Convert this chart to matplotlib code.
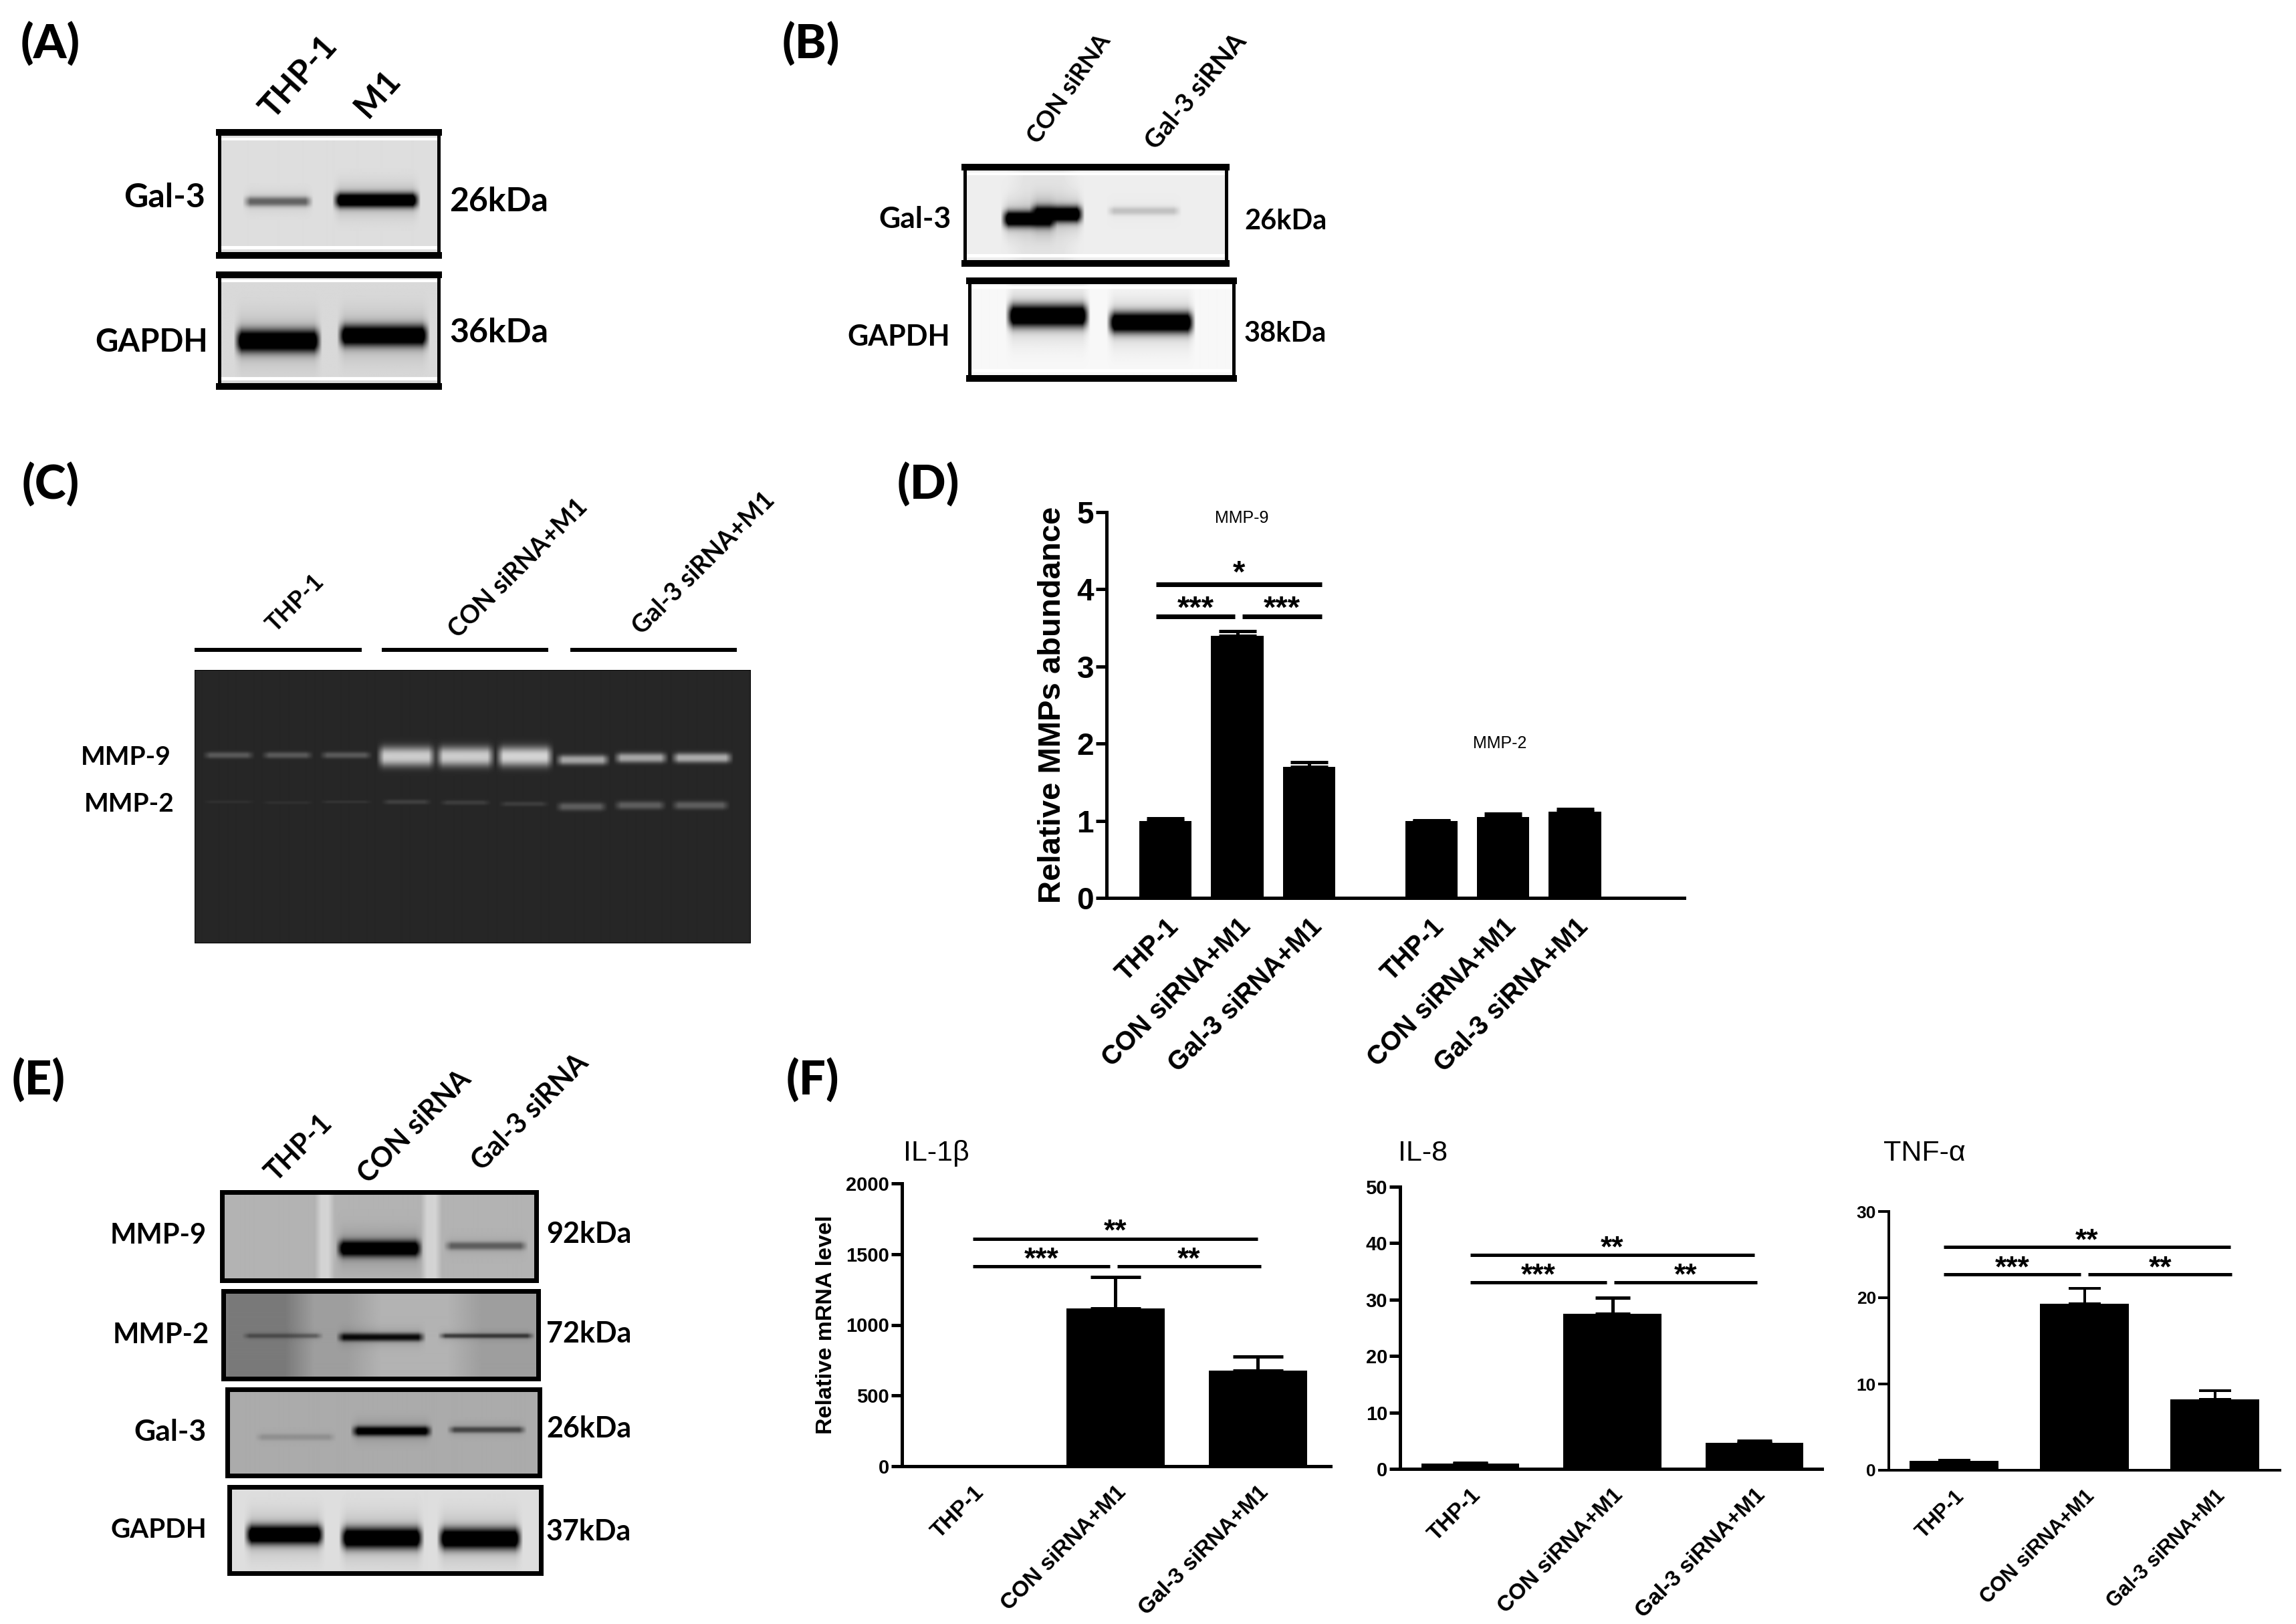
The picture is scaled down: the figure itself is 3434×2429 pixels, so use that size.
import numpy as np
import matplotlib
matplotlib.use('Agg')
import matplotlib.pyplot as plt

W, H = 3434, 2429
DPI = 100
ARIAL = 'Liberation Sans'
CALIBRI = 'Lato'

GROUPS = ['THP-1', 'CON siRNA+M1', 'Gal-3 siRNA+M1']

# panel D
mmp9_values = [1.0, 3.4, 1.7]
mmp9_errors = [0.03, 0.06, 0.06]
mmp2_values = [1.0, 1.05, 1.12]
mmp2_errors = [0.005, 0.04, 0.03]

# panel F
il1b_values = [1, 1115, 675]
il1b_errors = [0, 225, 100]
il8_values = [1, 27.5, 4.6]
il8_errors = [0.05, 2.8, 0.4]
tnf_values = [1.1, 19.3, 8.2]
tnf_errors = [0.05, 1.8, 1.0]

# blots: box (x0, x1, y0, y1), background grey, bands (x0, x1, y, half height, strength),
# lane strips (x0, x1, grey shift)
a_gal3 = ((328, 656, 198, 382), 0.87, [(368, 462, 301, 6, 0.42), (502, 622, 299, 9, 1.0)], [])
a_gapdh = ((328, 656, 411, 578), 0.85, [(355, 475, 510, 14, 1.0), (509, 636, 502, 13, 1.0)], [])
b_gal3 = ((1443, 1834, 250, 394), 0.93, [(1502, 1575, 327, 10, 1.0), (1545, 1616, 320, 10, 1.0), (1660, 1761, 315, 5, 0.14)],
          [(1505, 1615, -0.04)])
b_gapdh = ((1450, 1845, 420, 566), 0.97, [(1509, 1624, 472, 14, 1.0), (1660, 1781, 482, 13, 1.0)], [])
c_gel = ((291, 1122, 1002, 1410), 0.15, [
    (308, 375, 1129, 4, -0.2), (396, 463, 1129, 4, -0.2), (483, 551, 1129, 4, -0.2),
    (568, 646, 1131, 12, -0.65), (656, 734, 1131, 12, -0.65), (746, 822, 1131, 12, -0.68),
    (835, 906, 1136, 6, -0.5), (922, 993, 1133, 6, -0.5), (1008, 1090, 1133, 6, -0.52),
    (308, 375, 1199, 2, -0.04), (396, 463, 1200, 2, -0.04), (483, 551, 1199, 2, -0.05),
    (575, 640, 1199, 3, -0.1), (662, 728, 1200, 3, -0.09), (750, 815, 1202, 3, -0.09),
    (835, 902, 1206, 5, -0.22), (922, 990, 1204, 5, -0.22), (1008, 1085, 1204, 5, -0.22)], [])
e_mmp9 = ((332, 802, 1783, 1915), 0.7, [(507, 626, 1867, 10, 1.0), (668, 783, 1863, 5, 0.36)],
          [(470, 500, 0.13), (628, 660, 0.13)])
e_mmp2 = ((334, 805, 1931, 2062), 0.62, [(367, 478, 1998, 3, 0.3), (508, 631, 2000, 5, 0.72), (660, 794, 1998, 3, 0.5)],
          [(300, 470, -0.14), (520, 720, 0.08)])
e_gal3 = ((340, 807, 2078, 2207), 0.67, [(386, 497, 2149, 4, 0.12), (529, 641, 2140, 6, 0.85), (673, 781, 2138, 4, 0.45)], [])
e_gapdh = ((343, 809, 2224, 2353), 0.87, [(370, 480, 2295, 12, 1.0), (512, 628, 2300, 13, 1.0), (658, 775, 2301, 13, 1.0)], [])


def pts(px):
    return px * 72 / DPI


def box_axes(fig, x0, x1, y0, y1):
    return fig.add_axes([x0 / W, 1 - y1 / H, (x1 - x0) / W, (y1 - y0) / H])


def draw_blot(fig, blot, border=5, white_edge=False):
    (x0, x1, y0, y1), bg, bands, strips = blot
    xx, yy = np.meshgrid(np.arange(x0, x1), np.arange(y0, y1))
    img = np.full(xx.shape, float(bg))
    for sx0, sx1, shift in strips:
        ramp = max(10, (sx1 - sx0) / 4)
        img = img + shift * np.clip((xx - sx0) / ramp, 0, 1) * np.clip((sx1 - xx) / ramp, 0, 1)
    for bx0, bx1, by, half, strength in bands:
        across = np.clip((xx - bx0 + 6) / 12, 0, 1) * np.clip((bx1 - xx + 6) / 12, 0, 1)
        down = np.exp(-np.abs((yy - by) / (half * 1.2)) ** 2.4)
        halo = np.exp(-((yy - by) / (half * 2.6)) ** 2) * 0.18
        if strength > 0:
            img = img * (1 - np.clip(across * (down * strength * 1.15 + halo * strength), 0, 1))
        else:
            img = img - strength * across * down
    if white_edge:
        img[8:12, :] = 1.0
        img[-14:-9, :] = 1.0
    ax = box_axes(fig, x0, x1, y0, y1)
    ax.imshow(img, cmap='gray', vmin=0, vmax=1, aspect='auto', interpolation='bilinear')
    ax.set_xticks([])
    ax.set_yticks([])
    for side in ax.spines.values():
        side.set_linewidth(pts(border))
        side.set_color('black')
    if white_edge:
        ax.spines['top'].set_linewidth(pts(border * 2))
        ax.spines['bottom'].set_linewidth(pts(border * 2))
    return ax


def draw_bars(fig, box, xlim, ylim, positions, values, errors, width, labels, yticks,
              tick_size, label_size, axis_lw, cap):
    ax = box_axes(fig, *box)
    ax.patch.set_alpha(0)
    ax.bar(positions, values, width=width, color='black', zorder=2)
    ax.errorbar(positions, values, yerr=[np.zeros(len(errors)), errors], fmt='none', ecolor='black',
                elinewidth=pts(axis_lw), capsize=cap, capthick=pts(axis_lw), zorder=2, clip_on=False)
    ax.set_xlim(*xlim)
    ax.set_ylim(*ylim)
    ax.spines['top'].set_visible(False)
    ax.spines['right'].set_visible(False)
    ax.spines['left'].set_linewidth(pts(axis_lw))
    ax.spines['bottom'].set_linewidth(pts(axis_lw))
    ax.set_yticks(yticks)
    ax.tick_params(axis='y', length=pts(16), width=pts(axis_lw), pad=pts(3))
    for tick in ax.get_yticklabels():
        tick.set_fontsize(tick_size)
        tick.set_fontfamily(ARIAL)
        tick.set_fontweight('bold')
    ax.set_xticks(positions)
    ax.set_xticklabels(labels, rotation=45, ha='right', va='top', rotation_mode='anchor',
                       fontsize=label_size, fontfamily=ARIAL, fontweight='bold')
    ax.tick_params(axis='x', length=0, pad=pts(24))
    return ax


def sig_bar(ax, x0, x1, y, stars, size, lw, rise=0.0):
    ax.plot([x0, x1], [y, y], color='black', lw=pts(lw), solid_capstyle='butt', clip_on=False)
    ax.text((x0 + x1) / 2, y + rise, stars, ha='center', va='center', fontsize=size, fontfamily=ARIAL, fontweight='bold')


def main():
    fig = plt.figure(figsize=(W / DPI, H / DPI), dpi=DPI, facecolor='white')

    for blot in [a_gal3, a_gapdh, b_gal3, b_gapdh]:
        draw_blot(fig, blot, border=5, white_edge=True)
    draw_blot(fig, c_gel, border=1)
    for blot in [e_mmp9, e_mmp2, e_gal3, e_gapdh]:
        draw_blot(fig, blot, border=7)

    # overlay in picture pixels for the free labels
    page = fig.add_axes([0, 0, 1, 1], zorder=5)
    page.set_xlim(0, W)
    page.set_ylim(H, 0)
    page.axis('off')

    for label, x, y in [('(A)', 31, 66), ('(B)', 1170, 66), ('(C)', 33, 725),
                        ('(D)', 1342, 725), ('(E)', 18, 1616), ('(F)', 1176, 1616)]:
        page.text(x, y, label, ha='left', va='center', fontsize=51, fontfamily=CALIBRI, fontweight='black')

    side_labels = [('Gal-3', 307, 296, 36), ('GAPDH', 311, 512, 34),
                   ('Gal-3', 1423, 328, 32), ('GAPDH', 1421, 504, 31),
                   ('MMP-9', 256, 1132, 28), ('MMP-2', 261, 1202, 28),
                   ('MMP-9', 309, 1848, 30), ('MMP-2', 313, 1997, 30),
                   ('Gal-3', 309, 2142, 32), ('GAPDH', 309, 2289, 29)]
    for label, x, y, size in side_labels:
        page.text(x, y, label, ha='right', va='center', fontsize=size, fontfamily=CALIBRI, fontweight='bold')

    size_labels = [('26kDa', 672, 302, 36), ('36kDa', 672, 497, 36),
                   ('26kDa', 1861, 331, 30), ('38kDa', 1861, 499, 30),
                   ('92kDa', 817, 1846, 31), ('72kDa', 817, 1995, 31),
                   ('26kDa', 817, 2137, 31), ('37kDa', 817, 2291, 31)]
    for label, x, y, size in size_labels:
        page.text(x, y, label, ha='left', va='center', fontsize=size, fontfamily=CALIBRI, fontweight='bold')

    lane_labels = [('THP-1', 447, 116, 36, 48), ('M1', 565, 140, 36, 48),
                   ('CON siRNA', 1599, 133, 26, 55), ('Gal-3 siRNA', 1789, 137, 28, 50),
                   ('THP-1', 442, 902, 26, 45), ('CON siRNA+M1', 775, 850, 27, 45),
                   ('Gal-3 siRNA+M1', 1053, 843, 27, 45),
                   ('THP-1', 447, 1717, 30, 45), ('CON siRNA', 620, 1686, 30, 45),
                   ('Gal-3 siRNA', 793, 1664, 30, 45)]
    for label, x, y, size, angle in lane_labels:
        page.text(x, y, label, ha='center', va='center', rotation=angle, fontsize=size,
                  fontfamily=CALIBRI, fontweight='bold')

    for x0, x1 in [(291, 541), (571, 820), (853, 1102)]:
        page.plot([x0, x1], [972, 972], color='black', lw=pts(6), solid_capstyle='butt')

    # panel D
    positions_d = [0, 1, 2, 3.7, 4.7, 5.7]
    ax_d = draw_bars(fig, (1655, 2519, 766, 1343), (-0.82, 7.22), (0, 5), positions_d,
                     mmp9_values + mmp2_values, mmp9_errors + mmp2_errors, 0.73, GROUPS * 2,
                     [0, 1, 2, 3, 4, 5], 33, 28.5, 5, 20)
    ax_d.set_ylabel('Relative MMPs abundance', fontsize=34, fontfamily=ARIAL, fontweight='bold', labelpad=pts(14))
    sig_bar(ax_d, -0.13, 2.18, 4.06, '*', 34, 7, rise=0.14)
    sig_bar(ax_d, -0.13, 0.97, 3.65, '***', 34, 7, rise=0.09)
    sig_bar(ax_d, 1.07, 2.18, 3.65, '***', 34, 7, rise=0.09)
    page.text(1857, 775, 'MMP-9', ha='center', va='center', fontsize=18, fontfamily=ARIAL)
    page.text(2243, 1112, 'MMP-2', ha='center', va='center', fontsize=18, fontfamily=ARIAL)

    # panel F
    ax_il1b = draw_bars(fig, (1349, 1990, 1770, 2193), (-0.5, 2.51), (0, 2000), [0, 1, 2], il1b_values,
                        il1b_errors, 0.69, GROUPS, [0, 500, 1000, 1500, 2000], 21, 24, 5, 27)
    ax_il1b.set_ylabel('Relative mRNA level', fontsize=24.5, fontfamily=ARIAL, fontweight='bold', labelpad=pts(14))
    sig_bar(ax_il1b, 0, 2.0, 1609, '**', 32, 5, rise=45)
    sig_bar(ax_il1b, 0, 0.96, 1412, '***', 32, 5, rise=45)
    sig_bar(ax_il1b, 1.01, 2.02, 1412, '**', 32, 5, rise=45)

    ax_il8 = draw_bars(fig, (2094, 2725, 1775, 2197), (-0.494, 2.475), (0, 50), [0, 1, 2], il8_values,
                       il8_errors, 0.69, GROUPS, [0, 10, 20, 30, 40, 50], 21, 24, 5, 19)
    sig_bar(ax_il8, 0, 2.0, 37.9, '**', 32, 5, rise=1.1)
    sig_bar(ax_il8, 0, 0.96, 33, '***', 32, 5, rise=1.1)
    sig_bar(ax_il8, 1.01, 2.02, 33, '**', 32, 5, rise=1.1)

    ax_tnf = draw_bars(fig, (2825, 3410, 1812, 2199), (-0.5, 2.5), (0, 30), [0, 1, 2], tnf_values,
                       tnf_errors, 0.68, GROUPS, [0, 10, 20, 30], 19, 22, 4, 17)
    sig_bar(ax_tnf, -0.08, 2.12, 25.9, '**', 32, 5, rise=0.65)
    sig_bar(ax_tnf, -0.08, 0.97, 22.7, '***', 32, 5, rise=0.65)
    sig_bar(ax_tnf, 1.03, 2.13, 22.7, '**', 32, 5, rise=0.65)

    for label, x in [('IL-1β', 1351), ('IL-8', 2091), ('TNF-α', 2817)]:
        page.text(x, 1725, label, ha='left', va='center', fontsize=31, fontfamily=ARIAL)

    fig.savefig('out.png', dpi=DPI, facecolor='white')


if __name__ == '__main__':
    main()
